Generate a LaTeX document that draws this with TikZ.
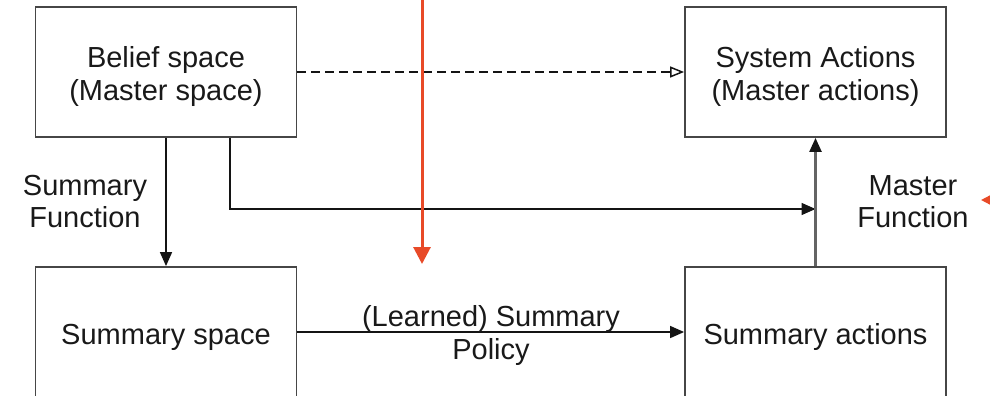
\documentclass[tikz,border=0pt]{standalone}
\usepackage{fontspec}
\setmainfont{Liberation Sans}
\usetikzlibrary{arrows.meta}
\definecolor{ln}{RGB}{70,70,70}
\definecolor{cn}{RGB}{20,20,20}
\definecolor{gr}{RGB}{100,100,100}
\definecolor{tx}{RGB}{25,25,25}
\definecolor{redarr}{RGB}{232,74,40}
\newcommand{\bxt}[1]{\raisebox{-12pt}[0pt][0pt]{\begin{tabular}{@{}c@{}}#1\end{tabular}}}
\begin{document}
\begin{tikzpicture}[x=1pt,y=-1pt,
  box/.style={draw=ln,line width=1.8pt,minimum width=261pt,minimum height=130pt,inner sep=0pt,align=center,text=tx,font=\fontsize{29}{33}\selectfont},
  lbl/.style={align=center,text=tx,inner sep=0pt,font=\fontsize{29}{32}\selectfont},
  conn/.style={draw=cn,line width=1.5pt},
  tip/.style={-{Triangle[length=14pt,width=12pt]}},
  otip/.style={-{Triangle[open,length=14pt,width=11pt]}},
  red/.style={draw=redarr,fill=redarr,line width=3pt,-{Triangle[length=17pt,width=17pt]}}]
\useasboundingbox (0,0) rectangle (990,396);
\clip (0,0) rectangle (990,396);
\node[box] (belief) at (166,72) {\bxt{Belief space\\(Master space)}};
\node[box] (sysact) at (815.5,72) {\bxt{System Actions\\(Master actions)}};
\node[box] (sumspace) at (166,332) {\bxt{Summary space}};
\node[box] (sumact) at (815.5,332) {\bxt{Summary actions}};
\coordinate (j) at (815.5,209);
\draw[conn,dashed,dash pattern=on 9pt off 5pt,otip] (belief.east) -- (sysact.west);
\draw[conn,tip] (belief) -- (sumspace);
\draw[conn,tip] ([xshift=64pt]belief.south) |- (j);
\draw[conn,draw=gr,line width=2.2pt,-{Triangle[length=14pt,width=12pt,color=cn,fill=cn]}] (sumact) -- (sysact);
\draw[conn,tip] (sumspace) -- (sumact);
\node[lbl] (sf) at (85,202) {Summary\\Function};
\node[lbl] (mf) at (913,202) {Master\\Function};
\node[lbl,font=\fontsize{29}{33}\selectfont] (sp) at (491,335.5) {(Learned) Summary\\Policy};
\coordinate (r1) at (422,-5);
\coordinate (r2) at (422,264);
\draw[red] (r1) -- (r2);
\coordinate (r3) at (1030,200);
\coordinate (r4) at (981,200);
\draw[red] (r3) -- (r4);
\end{tikzpicture}
\end{document}
